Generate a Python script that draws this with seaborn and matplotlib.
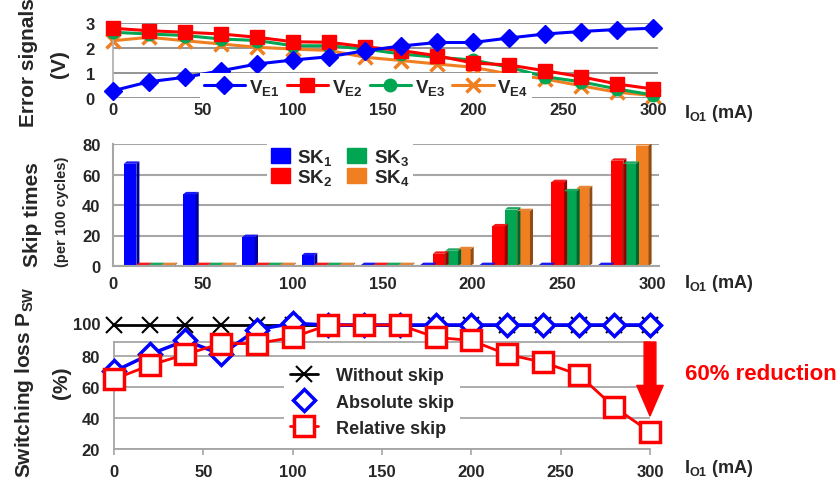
import numpy as np
import pandas as pd
import matplotlib
matplotlib.use("Agg")
import matplotlib.pyplot as plt
import seaborn as sns
from matplotlib.patches import Polygon, Patch, FancyArrowPatch
from matplotlib.lines import Line2D
import matplotlib.colors as mcolors

# ---------------- data ----------------
io_ma = [0, 20, 40, 60, 80, 100, 120, 140, 160, 180, 200, 220, 240, 260, 280, 300]
ve1 = [0.29, 0.65, 0.83, 1.09, 1.36, 1.52, 1.65, 1.89, 2.08, 2.22, 2.22, 2.40, 2.56, 2.66, 2.74, 2.79]
ve2 = [2.79, 2.69, 2.63, 2.56, 2.43, 2.25, 2.23, 2.05, 1.90, 1.69, 1.40, 1.32, 1.09, 0.85, 0.56, 0.36]
ve3 = [2.63, 2.56, 2.50, 2.36, 2.30, 2.09, 2.09, 1.96, 1.76, 1.63, 1.52, 1.23, 0.85, 0.65, 0.36, 0.12]
ve4 = [2.29, 2.43, 2.29, 2.16, 2.03, 1.96, 1.90, 1.63, 1.50, 1.36, 1.23, 0.96, 0.76, 0.49, 0.23, 0.10]
ve_labels = ["V$_{E1}$", "V$_{E2}$", "V$_{E3}$", "V$_{E4}$"]

sk_current = [20, 53, 86, 119, 152, 185, 218, 251, 284]
sk1 = [67, 47, 19, 7, 0.6, 0.6, 0.6, 0.6, 0.6]
sk2 = [0.6, 0.6, 0.6, 0.6, 0.6, 8, 26, 55, 69]
sk3 = [0.6, 0.6, 0.6, 0.6, 0.6, 10, 37, 49, 67]
sk4 = [0.6, 0.6, 0.6, 0.6, 0.6, 11, 36, 51, 79]
sk_labels = ["SK$_1$", "SK$_2$", "SK$_3$", "SK$_4$"]

psw_without = [100, 100, 100, 100, 100, 100, 100, 100, 100, 100, 100, 100, 100, 100, 100, 100]
psw_absolute = [70, 81, 90, 81, 97, 101, 100, 100, 100, 100, 100, 100, 100, 100, 100, 100]
psw_relative = [65, 74, 81, 88, 88, 92, 100, 100, 100, 92, 90, 81, 76, 68, 47, 31]
psw_labels = ["Without skip", "Absolute skip", "Relative skip"]

xticks = [0, 50, 100, 150, 200, 250, 300]
psw_yticks = [20, 40, 60, 80]
psw_top_tick = 100

# ---------------- style ----------------
sns.set_theme(style="white")
plt.rcParams["font.family"] = ["Liberation Sans", "DejaVu Sans"]
plt.rcParams["font.weight"] = "bold"
plt.rcParams["mathtext.fontset"] = "custom"
plt.rcParams["mathtext.rm"] = "Liberation Sans:bold"
plt.rcParams["mathtext.it"] = "Liberation Sans:bold"
plt.rcParams["mathtext.bf"] = "Liberation Sans:bold"
plt.rcParams["mathtext.sf"] = "Liberation Sans:bold"
plt.rcParams["mathtext.default"] = "rm"

BLUE = "#0000FF"
RED = "#FF0000"
GREEN = "#00A651"
ORANGE = "#F07F22"
GRID = "#8c8c8c"

W, H = 838, 485
fig = plt.figure(figsize=(W / 100, H / 100), dpi=100)


def fbox(l, r, t, b):
    return [l / W, 1 - b / H, (r - l) / W, (b - t) / H]


# ---------------- top panel ----------------
ax1 = fig.add_axes(fbox(113, 658, 24, 99))
series_top = [
    (ve4, ORANGE, "x", 10, 2.5, 2),
    (ve3, GREEN, "o", 9, 1, 3),
    (ve2, RED, "s", 10.5, 1, 4),
    (ve1, BLUE, "D", 9, 1, 5),
]
for vals, col, mk, ms, mew, z in series_top:
    sns.lineplot(x=io_ma, y=vals, ax=ax1, color=col, marker=mk, markersize=ms,
                 mec=col, mfc=col, mew=mew, linewidth=2.2, clip_on=False, zorder=z)
ax1.set_yticks([0, 1, 2, 3])
ax1.set_xticks(xticks)
ax1.set_xlim(0, 545 / 1.8)
ax1.set_ylim(0, 3)
ax1.grid(axis="y", color=GRID, lw=1.3)
ax1.grid(axis="x", visible=False)
for s in ["top", "right", "bottom"]:
    ax1.spines[s].set_visible(False)
ax1.spines["left"].set_color("#b0b0b0")
ax1.tick_params(axis="y", length=0, labelsize=12, pad=13)
ax1.tick_params(axis="x", length=0, labelsize=12, pad=3)
ax1.set_xlabel("")
ax1.set_ylabel("")
top_handles = [
    Line2D([], [], color=BLUE, marker="D", markersize=9, lw=2.2),
    Line2D([], [], color=RED, marker="s", markersize=10.5, lw=2.2),
    Line2D([], [], color=GREEN, marker="o", markersize=9, lw=2.2),
    Line2D([], [], color=ORANGE, marker="x", markersize=10, mew=2.5, lw=2.2),
]
ax1.legend(top_handles, ve_labels, ncol=4, loc="center",
           bbox_to_anchor=(366 / W, 1 - 88 / H), bbox_transform=fig.transFigure,
           frameon=True, facecolor="white", edgecolor="none", framealpha=1,
           fancybox=False, fontsize=13.5, handlelength=2.2, handletextpad=0.2,
           columnspacing=0.4, borderpad=0.2)

# ---------------- middle panel ----------------
ax2 = fig.add_axes(fbox(113, 659, 145, 267))
df_sk = pd.DataFrame({
    "current": sk_current * 4,
    "skips": sk1 + sk2 + sk3 + sk4,
    "series": [sk_labels[0]] * 9 + [sk_labels[1]] * 9 + [sk_labels[2]] * 9 + [sk_labels[3]] * 9,
})
sns.barplot(data=df_sk, x="current", y="skips", hue="series", native_scale=True,
            palette=[BLUE, RED, GREEN, ORANGE], saturation=1, width=0.85,
            ax=ax2, legend=False, errorbar=None, linewidth=0, edgecolor="none")
# 3D faces derived from the drawn bars
dx, dy = 1.7, 1.6
for p in list(ax2.patches):
    x0 = p.get_x()
    w = p.get_width()
    h = p.get_height()
    x1 = x0 + w
    fc = np.array(mcolors.to_rgb(p.get_facecolor()))
    side = Polygon([(x1, 0), (x1 + dx, dy), (x1 + dx, h + dy), (x1, h)], closed=True,
                   facecolor=fc * 0.6, edgecolor="none", zorder=p.get_zorder())
    top = Polygon([(x0, h), (x0 + dx, h + dy), (x1 + dx, h + dy), (x1, h)], closed=True,
                  facecolor=np.clip(fc * 0.85 + 0.1, 0, 1), edgecolor="none", zorder=p.get_zorder())
    ax2.add_patch(side)
    ax2.add_patch(top)
ax2.set_xticks(xticks)
ax2.set_xticklabels([str(v) for v in xticks])
ax2.set_yticks([0, 20, 40, 60, 80])
ax2.set_xlim(0, 546 / 1.797)
ax2.set_ylim(0, 80)
ax2.grid(axis="y", color="#a6a6a6", lw=1.5)
ax2.grid(axis="x", visible=False)
ax2.set_axisbelow(True)
for s in ["top", "right"]:
    ax2.spines[s].set_visible(False)
for s in ["left", "bottom"]:
    ax2.spines[s].set_color("#a6a6a6")
    ax2.spines[s].set_linewidth(1.5)
ax2.tick_params(axis="y", length=0, labelsize=12, pad=9)
ax2.tick_params(axis="x", length=0, labelsize=12, pad=7)
ax2.set_xlabel("")
ax2.set_ylabel("")
sk_handles = [Patch(color=c) for c in [BLUE, RED, GREEN, ORANGE]]
ax2.legend(sk_handles, sk_labels, ncol=2, loc="center",
           bbox_to_anchor=(340 / W, 1 - 168 / H), bbox_transform=fig.transFigure,
           frameon=True, facecolor="white", edgecolor="none", framealpha=1, fancybox=False,
           fontsize=13.5, handlelength=1.0, handleheight=0.8, handletextpad=0.4,
           columnspacing=0.8, labelspacing=0.0, borderpad=0.2)

# ---------------- bottom panel ----------------
ax3 = fig.add_axes(fbox(114, 650, 343, 450))
sns.lineplot(x=io_ma, y=psw_without, ax=ax3, color="black", marker="x", markersize=11,
             mec="black", mew=1.5, linewidth=2, clip_on=False, zorder=3)
sns.lineplot(x=io_ma, y=psw_absolute, ax=ax3, color=BLUE, marker="D", markersize=11,
             mec=BLUE, mfc="white", mew=2.5, linewidth=2.5, clip_on=False, zorder=4)
sns.lineplot(x=io_ma, y=psw_relative, ax=ax3, color=RED, marker="s", markersize=14,
             mec=RED, mfc="white", mew=2.5, linewidth=2, clip_on=False, zorder=5)
ax3.set_xticks(xticks)
ax3.set_yticks(psw_yticks)
ax3.set_xlim(0, 300)
ax3.set_ylim(20, 89)
ax3.grid(axis="y", color="#a6a6a6", lw=1.3)
ax3.grid(axis="x", visible=False)
ax3.set_axisbelow(True)
ax3.spines["right"].set_visible(False)
for s in ["left", "bottom", "top"]:
    ax3.spines[s].set_color("#a6a6a6")
    ax3.spines[s].set_linewidth(1.3)
ax3.tick_params(axis="y", length=0, labelsize=12, pad=10)
ax3.tick_params(axis="x", length=4, width=1.2, color="#a6a6a6", direction="out",
                bottom=True, labelsize=12, pad=7)
ax3.set_xlabel("")
ax3.set_ylabel("")
# the 100 % tick label sits above the drawn frame, as in the original
ax3.annotate(str(psw_top_tick), xy=(0, psw_top_tick), xycoords=("axes fraction", "data"),
             xytext=(-10, 0), textcoords="offset points", ha="right", va="center",
             fontsize=12, annotation_clip=False)
psw_handles = [
    Line2D([], [], color="black", marker="x", markersize=11, mew=1.5, lw=2),
    Line2D([], [], color=BLUE, marker="D", markersize=11, mfc="white", mew=2.5, lw=2.5, linestyle="none"),
    Line2D([], [], color=RED, marker="s", markersize=14, mfc="white", mew=2.5, lw=2),
]
ax3.legend(psw_handles, psw_labels, loc="center",
           bbox_to_anchor=(372 / W, 1 - 403 / H), bbox_transform=fig.transFigure,
           frameon=True, facecolor="white", edgecolor="none", framealpha=1, fancybox=False,
           fontsize=13, handlelength=1.6, handletextpad=1.0, labelspacing=0.5, borderpad=0.3)

arrow = FancyArrowPatch((300, 89), (300, 41.3),
                        arrowstyle="simple,head_length=22,head_width=19,tail_width=8.5",
                        mutation_scale=1, color=RED, shrinkA=0, shrinkB=0, clip_on=False,
                        zorder=6)
ax3.add_patch(arrow)

# ---------------- texts ----------------
fig.text(28 / W, 1 - 63 / H, "Error signals", rotation=90, ha="center", va="center", fontsize=15)
fig.text(59 / W, 1 - 64 / H, "(V)", rotation=90, ha="center", va="center", fontsize=15)
fig.text(32 / W, 1 - 215 / H, "Skip times", rotation=90, ha="center", va="center", fontsize=15)
fig.text(62 / W, 1 - 212 / H, "(per 100 cycles)", rotation=90, ha="center", va="center", fontsize=10.5)
fig.text(24 / W, 1 - 382 / H, "Switching loss P$_{SW}$", rotation=90, ha="center", va="center", fontsize=15)
fig.text(62 / W, 1 - 383 / H, "(%)", rotation=90, ha="center", va="center", fontsize=15)

for yc in [113, 283, 469]:
    fig.text(684 / W, 1 - yc / H, "I$_{O1}$ (mA)", ha="left", va="center", fontsize=13)

fig.text(685 / W, 1 - 375 / H, "60% reduction", ha="left", va="center", fontsize=16, color=RED)

fig.savefig("out.png", dpi=100)
